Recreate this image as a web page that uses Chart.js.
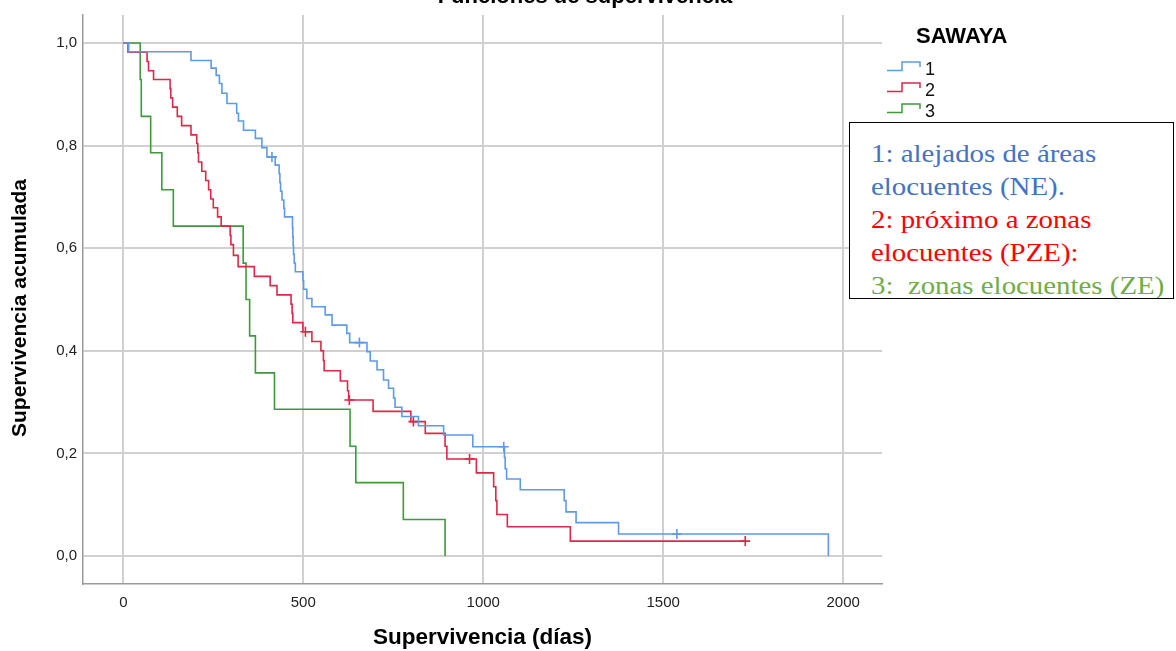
<!DOCTYPE html>
<html lang="es">
<head>
<meta charset="utf-8">
<title>Funciones de supervivencia</title>
<script src="https://cdn.jsdelivr.net/npm/chart.js@4.4.1/dist/chart.umd.min.js"></script>
<style>
  html, body { margin: 0; padding: 0; background: #fff; overflow: hidden; }
  #wrap { position: relative; width: 1176px; height: 651px; }
  #km { display: block; }
  #nota {
    position: absolute; left: 849px; top: 122px; width: 325px; height: 177px;
    box-sizing: border-box; border: 1px solid #000; background: #fff;
    padding: 14px 0 0 21px; white-space: nowrap; overflow: hidden;
    font-family: "Liberation Serif", "Times New Roman", serif; font-size: 26px; line-height: 33px;
  }
  #nota .txt { display: inline-block; transform: scaleX(1.11); transform-origin: left top; }
</style>
</head>
<body>
<div id="wrap">
  <canvas id="km" width="1176" height="651"></canvas>
  <div id="nota"><span class="txt"><span style="color:#4472c4">1: alejados de áreas<br>elocuentes (NE).</span><br><span style="color:#ff0000">2: próximo a zonas<br>elocuentes (PZE):</span><br><span style="color:#70ad47">3:&nbsp; zonas elocuentes (ZE)</span></span></div>
</div>
<script>
// Textos
const titulo = 'Funciones de supervivencia';
const tituloLeyenda = 'SAWAYA';
const tituloY = 'Supervivencia acumulada';
const grupos = ['1', '2', '3'];

// Ejes
const ticksX = [0, 500, 1000, 1500, 2000];
const ticksY = [0, 0.2, 0.4, 0.6, 0.8, 1.0];

// Grupo 1 (azul) - Kaplan-Meier
const dias1 = [0, 15, 188, 244, 258, 267, 274, 288, 315, 320, 334, 367, 385, 399, 422, 433, 435, 437, 441, 446,
  448, 470, 471, 472, 473, 475, 478, 499, 501, 510, 524, 561, 580, 621, 629, 677, 686, 705, 723, 737,
  751, 755, 774, 820, 890, 971, 1059, 1061, 1065, 1103, 1225, 1230, 1258, 1376, 1959];
const surv1 = [1, .983, .966, .951, .937, .921, .902, .882, .863, .848, .830, .814, .796, .778, .762, .745, .728, .711, .694, .678,
  .661, .640, .622, .605, .588, .571, .554, .537, .520, .502, .486, .470, .450, .434, .416, .398, .380, .363, .343, .327,
  .308, .290, .272, .254, .236, .213, .192, .170, .150, .129, .108, .086, .065, .043, 0];
const censDias1 = [413, 656, 1057, 1538];
const censSurv1 = [.778, .416, .213, .043];

// Grupo 2 (rojo)
const dias2 = [0, 13, 66, 70, 84, 130, 132, 137, 150, 162, 188, 204, 207, 209, 218, 229, 237, 243, 250, 262,
  272, 297, 299, 306, 319, 364, 408, 427, 466, 469, 471, 499, 524, 549, 556, 558, 603, 623, 626, 694,
  799, 839, 894, 899, 981, 1029, 1035, 1038, 1067, 1242, 1728];
const surv2 = [1, .982, .964, .946, .929, .911, .893, .875, .857, .839, .821, .804, .786, .768, .750, .732, .714, .696, .679, .661,
  .643, .625, .607, .586, .564, .545, .527, .509, .491, .473, .455, .437, .418, .400, .381, .361, .341, .322, .304, .282,
  .262, .239, .214, .189, .162, .135, .108, .081, .057, .029, .029];
const censDias2 = [506, 628, 806, 962, 1728];
const censSurv2 = [.437, .304, .262, .189, .029];

// Grupo 3 (verde)
const dias3 = [0, 47, 50, 76, 107, 139, 333, 341, 351, 367, 420, 630, 646, 778, 894];
const surv3 = [1, .929, .857, .786, .714, .643, .571, .500, .429, .357, .286, .214, .143, .071, 0];

const colores = ['#5f9ae6', '#dc2849', '#3f9a3c'];
const fuente = '"Liberation Sans", Arial, sans-serif';

function curva(dias, surv, color, etiqueta) {
  return {
    label: etiqueta,
    data: dias.map((d, i) => ({ x: d, y: surv[i] })),
    borderColor: color,
    borderWidth: 1.6,
    stepped: 'before',
    pointRadius: 0,
    fill: false
  };
}

function censuras(dias, surv, color) {
  return {
    label: 'censurado',
    data: dias.map((d, i) => ({ x: d, y: surv[i] })),
    showLine: false,
    borderColor: color,
    backgroundColor: color,
    pointStyle: 'cross',
    pointRadius: 5,
    pointBorderWidth: 1.6
  };
}

// Titulo (cortado arriba), titulo del eje Y y leyenda con icono escalonado
const extras = {
  id: 'extras',
  afterDraw(chart) {
    const ctx = chart.ctx;
    ctx.save();
    ctx.fillStyle = '#000';
    ctx.textBaseline = 'alphabetic';
    ctx.textAlign = 'center';
    ctx.font = 'bold 22px ' + fuente;
    ctx.fillText(titulo, 585, 3);

    // eje Y
    ctx.save();
    ctx.translate(20, 308);
    ctx.rotate(-Math.PI / 2);
    ctx.textBaseline = 'middle';
    ctx.font = 'bold 21px ' + fuente;
    ctx.fillText(tituloY, 0, 0);
    ctx.restore();

    ctx.textAlign = 'left';
    ctx.font = 'bold 22px ' + fuente;
    ctx.fillText(tituloLeyenda, 916, 43);

    ctx.font = '18px ' + fuente;
    grupos.forEach((g, i) => {
      const y = 68 + i * 21;
      ctx.strokeStyle = colores[i];
      ctx.lineWidth = 1.5;
      ctx.beginPath();
      ctx.moveTo(887, y + 2.5);
      ctx.lineTo(902, y + 2.5);
      ctx.lineTo(902, y - 6);
      ctx.lineTo(920, y - 6);
      ctx.lineTo(920, y - 1);
      ctx.stroke();
      ctx.fillStyle = '#111';
      ctx.fillText(g, 925, y + 7);
    });
    ctx.restore();
  }
};

const ctx = document.getElementById('km').getContext('2d');

new Chart(ctx, {
  type: 'line',
  data: {
    datasets: [
      curva(dias1, surv1, colores[0], grupos[0]),
      curva(dias2, surv2, colores[1], grupos[1]),
      curva(dias3, surv3, colores[2], grupos[2]),
      censuras(censDias1, censSurv1, colores[0]),
      censuras(censDias2, censSurv2, colores[1])
    ]
  },
  options: {
    responsive: false,
    animation: false,
    devicePixelRatio: 1,
    layout: { padding: { left: 0, top: 15, right: 294, bottom: 0 } },
    plugins: {
      legend: { display: false },
      tooltip: { enabled: false },
      title: { display: false }
    },
    scales: {
      x: {
        type: 'linear',
        min: -112,
        max: 2108,
        afterBuildTicks: s => { s.ticks = ticksX.map(v => ({ value: v })); },
        afterFit: s => { s.height = 67; },
        grid: { color: '#d0d0d0', lineWidth: 2, drawTicks: false },
        border: { display: true, color: '#9a9a9a', width: 1.5 },
        ticks: {
          padding: 10,
          color: '#222',
          font: { family: fuente, size: 15 },
          callback: v => String(v)
        },
        title: {
          display: true,
          text: 'Supervivencia (días)',
          color: '#000',
          padding: { top: 0, bottom: 0 },
          font: { family: fuente, size: 22.5, weight: 'bold' }
        }
      },
      y: {
        type: 'linear',
        min: -0.0546,
        max: 1.0546,
        afterBuildTicks: s => { s.ticks = ticksY.map(v => ({ value: v })); },
        afterFit: s => { s.width = 83; },
        grid: { color: '#d0d0d0', lineWidth: 2, drawTicks: false },
        border: { display: true, color: '#9a9a9a', width: 1.5 },
        ticks: {
          padding: 6,
          color: '#222',
          font: { family: fuente, size: 15 },
          callback: v => v.toFixed(1).replace('.', ',')
        },
        title: { display: false }
      }
    }
  },
  plugins: [extras]
});
</script>
</body>
</html>
